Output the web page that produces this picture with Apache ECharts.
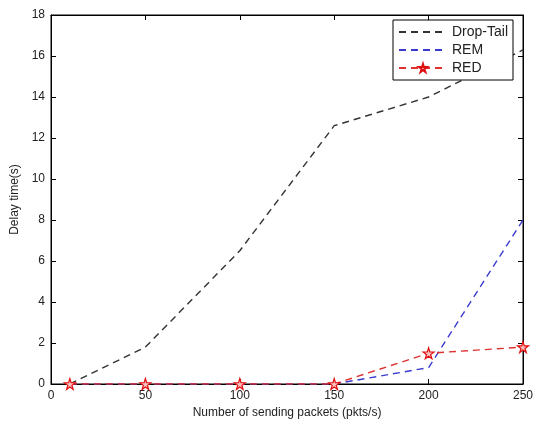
<!DOCTYPE html>
<html>
<head>
<meta charset="UTF-8">
<title>Delay time</title>
<script src="https://cdn.jsdelivr.net/npm/echarts@6/dist/echarts.min.js"></script>
<style>
    body { margin: 0; background: #fff; }
    #chart { width: 540px; height: 427px; }
</style>
</head>
<body>
<div id="chart"></div>
<script>
    // x values (pkts/s)
    const xValues = [10, 50, 100, 150, 200, 250];
    const dropTail = [0, 1.8, 6.5, 12.6, 14.0, 16.3];
    const rem = [0, 0, 0, 0, 0.8, 8.0];
    const red = [0, 0, 0, 0, 1.5, 1.8];

    const star = 'path://M50,0 L61,35 L98,35 L68,57 L79,91 L50,70 L21,91 L32,57 L2,35 L39,35 Z';

    function pairs(ys) {
        return xValues.map((x, i) => [x, ys[i]]);
    }

    const chart = echarts.init(document.getElementById('chart'));
    const axisText = { color: '#222', fontSize: 12, fontFamily: 'Arial' };
    const tick = { show: true, inside: true, length: 5, lineStyle: { color: '#000' } };

    chart.setOption({
        animation: false,
        grid: { left: 51, right: 17, top: 15, bottom: 43, show: true, borderColor: '#000', borderWidth: 1 },
        legend: {
            orient: 'vertical',
            left: 393,
            top: 20,
            padding: [5, 5, 5, 5],
            itemGap: 4,
            itemWidth: 48,
            itemHeight: 10,
            borderColor: '#000',
            borderWidth: 1,
            backgroundColor: '#fff',
            textStyle: { color: '#222', fontSize: 14, fontFamily: 'Arial' },
            data: [
                { name: 'Drop-Tail', itemStyle: { opacity: 0 } },
                { name: 'REM', itemStyle: { opacity: 0 } },
                { name: 'RED' }
            ]
        },
        xAxis: [{
            type: 'value', min: 0, max: 250, interval: 50,
            name: 'Number of sending packets (pkts/s)',
            nameLocation: 'middle', nameGap: 22,
            nameTextStyle: axisText,
            axisLine: { onZero: false, lineStyle: { color: '#000' } },
            axisTick: tick,
            axisLabel: Object.assign({ margin: 6 }, axisText),
            splitLine: { show: false }
        }, {
            type: 'value', min: 0, max: 250, interval: 50, position: 'top',
            axisLine: { show: true, onZero: false, lineStyle: { color: '#000' } },
            axisTick: tick,
            axisLabel: { show: false },
            splitLine: { show: false }
        }],
        yAxis: [{
            type: 'value', min: 0, max: 18, interval: 2,
            name: 'Delay time(s)',
            nameLocation: 'middle', nameGap: 26,
            nameTextStyle: axisText,
            axisLine: { show: true, onZero: false, lineStyle: { color: '#000' } },
            axisTick: tick,
            axisLabel: Object.assign({ margin: 6 }, axisText),
            splitLine: { show: false }
        }, {
            type: 'value', min: 0, max: 18, interval: 2, position: 'right',
            axisLine: { show: true, onZero: false, lineStyle: { color: '#000' } },
            axisTick: tick,
            axisLabel: { show: false },
            splitLine: { show: false }
        }],
        series: [{
            name: 'Drop-Tail', type: 'line',
            data: pairs(dropTail),
            showSymbol: false, symbol: 'none',
            lineStyle: { color: '#333', width: 1.4, type: [7, 5] },
            itemStyle: { color: '#333' }
        }, {
            name: 'REM', type: 'line',
            data: pairs(rem),
            showSymbol: false, symbol: 'none',
            lineStyle: { color: '#3b3bd0', width: 1.4, type: [7, 5] },
            itemStyle: { color: '#3b3bd0' }
        }, {
            name: 'RED', type: 'line',
            data: pairs(red),
            symbol: star, symbolSize: 11,
            lineStyle: { color: '#e03030', width: 1.4, type: [7, 5] },
            itemStyle: { color: '#f8c0c0', borderColor: '#e01010', borderWidth: 1.2 }
        }]
    });
</script>
</body>
</html>
